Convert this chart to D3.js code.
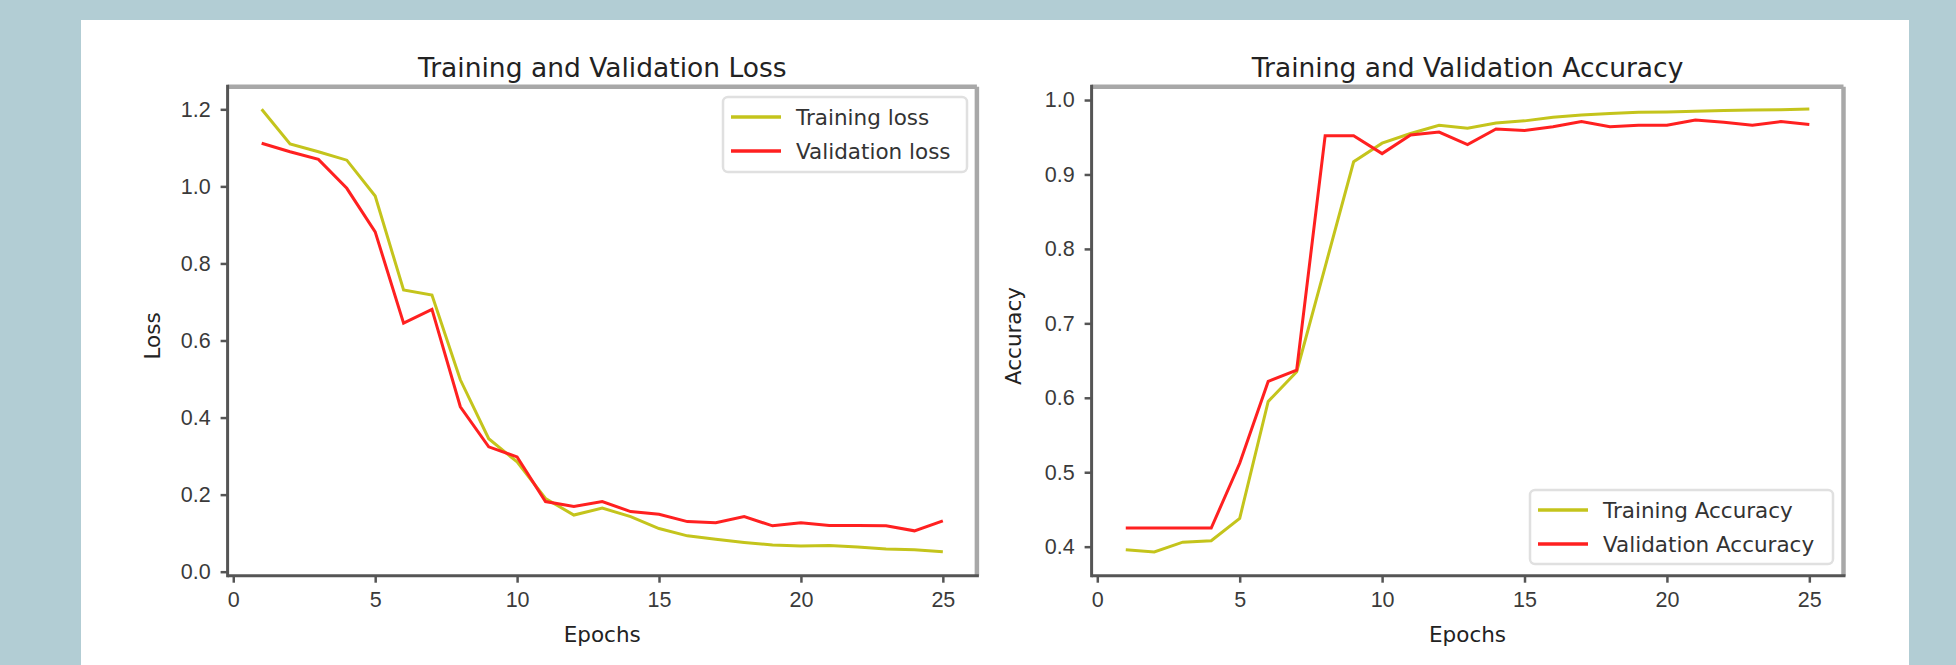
<!DOCTYPE html>
<html>
<head>
<meta charset="utf-8">
<script src="https://cdn.jsdelivr.net/npm/d3@7"></script>
<style>
  body { margin: 0; background: #b2cdd4; }
  svg { display: block; font-family: "DejaVu Sans", sans-serif; }
  .tick text { fill: #3a3a3a; font-size: 21.5px; }
  .tick line { stroke: #555; stroke-width: 2.5; }
  .domain { display: none; }
</style>
</head>
<body>
<div id="chart"></div>
<script>
// values
const epochs = [1, 2, 3, 4, 5, 6, 7, 8, 9, 10, 11, 12, 13, 14, 15, 16, 17, 18, 19, 20, 21, 22, 23, 24, 25];
const trainLoss = [1.20, 1.11, 1.09, 1.068, 0.975, 0.731, 0.718, 0.498, 0.345, 0.285, 0.19, 0.147, 0.165, 0.143, 0.112,
  0.093, 0.084, 0.076, 0.069, 0.067, 0.068, 0.064, 0.059, 0.057, 0.052];
const valLoss = [1.112, 1.09, 1.07, 0.995, 0.882, 0.645, 0.681, 0.428, 0.324, 0.298, 0.182, 0.169, 0.182, 0.156, 0.149,
  0.130, 0.127, 0.143, 0.119, 0.127, 0.12, 0.12, 0.119, 0.106, 0.132];
const trainAcc = [0.396, 0.393, 0.406, 0.408, 0.438, 0.595, 0.635, 0.776, 0.917, 0.942, 0.955, 0.966, 0.962, 0.969, 0.972,
  0.977, 0.980, 0.982, 0.9835, 0.984, 0.985, 0.986, 0.9866, 0.987, 0.988];
const valAcc = [0.425, 0.425, 0.425, 0.425, 0.512, 0.622, 0.637, 0.952, 0.952, 0.928, 0.953, 0.957, 0.940, 0.961, 0.959,
  0.964, 0.971, 0.964, 0.966, 0.966, 0.973, 0.970, 0.966, 0.971, 0.967];
const xTicks = [0, 5, 10, 15, 20, 25];
const lossTicks = [0.0, 0.2, 0.4, 0.6, 0.8, 1.0, 1.2];
const accTicks = [0.4, 0.5, 0.6, 0.7, 0.8, 0.9, 1.0];

(function () {

  const W = 1956, H = 665;
  const trainColor = "#c4c41c", valColor = "#ff2020";
  const axTop = 86.7, axBottom = 575.7;

  const svg = d3.select("#chart").append("svg")
    .attr("width", W)
    .attr("height", H);

  // white card on the blue-grey page
  svg.append("rect")
    .attr("x", 81).attr("y", 20)
    .attr("width", 1909 - 81).attr("height", H - 20)
    .attr("fill", "#fff");

  const panels = [
    {
      title: "Training and Validation Loss", ylabel: "Loss",
      left: 227.6, right: 976.9, ydom: [-0.0104, 1.2587], yticks: lossTicks,
      train: trainLoss, val: valLoss,
      labels: ["Training loss", "Validation loss"],
      legend: { x: 723, y: 97, w: 244, h: 75 }, ylabelX: 160
    },
    {
      title: "Training and Validation Accuracy", ylabel: "Accuracy",
      left: 1091.6, right: 1843.5, ydom: [0.361, 1.0179], yticks: accTicks,
      train: trainAcc, val: valAcc,
      labels: ["Training Accuracy", "Validation Accuracy"],
      legend: { x: 1530, y: 490, w: 303, h: 74 }, ylabelX: 1021
    }
  ];

  panels.forEach(function (p) {
    const x = d3.scaleLinear().domain([-0.2, 26.2]).range([p.left, p.right]);
    const y = d3.scaleLinear().domain(p.ydom).range([axBottom, axTop]);
    const g = svg.append("g");

    // title
    g.append("text")
      .attr("x", (p.left + p.right) / 2)
      .attr("y", 77)
      .attr("text-anchor", "middle")
      .attr("fill", "#222")
      .style("font-size", "26.5px")
      .text(p.title);

    // lines
    const line = function (vals) {
      return d3.line()
        .x(function (d, i) { return x(epochs[i]); })
        .y(function (d) { return y(d); })(vals);
    };
    g.append("path").attr("d", line(p.train))
      .attr("fill", "none").attr("stroke", trainColor).attr("stroke-width", 3);
    g.append("path").attr("d", line(p.val))
      .attr("fill", "none").attr("stroke", valColor).attr("stroke-width", 3);

    // spines: top/right lighter, left/bottom dark
    g.append("line").attr("x1", p.left).attr("x2", p.right).attr("y1", axTop).attr("y2", axTop)
      .attr("stroke", "#a8a8a8").attr("stroke-width", 4.5);
    g.append("line").attr("x1", p.right).attr("x2", p.right).attr("y1", axTop).attr("y2", axBottom)
      .attr("stroke", "#a8a8a8").attr("stroke-width", 4.5);
    g.append("line").attr("x1", p.left).attr("x2", p.left).attr("y1", axTop - 2).attr("y2", axBottom + 1.5)
      .attr("stroke", "#555").attr("stroke-width", 3);
    g.append("line").attr("x1", p.left).attr("x2", p.right + 2).attr("y1", axBottom).attr("y2", axBottom)
      .attr("stroke", "#555").attr("stroke-width", 3);

    // axes
    g.append("g")
      .attr("transform", "translate(0," + axBottom + ")")
      .call(d3.axisBottom(x).tickValues(xTicks).tickFormat(d3.format("d")).tickSize(7).tickPadding(9.5));
    g.append("g")
      .attr("transform", "translate(" + p.left + ",0)")
      .call(d3.axisLeft(y).tickValues(p.yticks).tickFormat(d3.format(".1f")).tickSize(7).tickPadding(10));

    // axis labels
    g.append("text")
      .attr("x", (p.left + p.right) / 2)
      .attr("y", 642)
      .attr("text-anchor", "middle")
      .attr("fill", "#222")
      .style("font-size", "21.5px")
      .text("Epochs");
    g.append("text")
      .attr("transform", "translate(" + p.ylabelX + "," + 336 + ") rotate(-90)")
      .attr("text-anchor", "middle")
      .attr("fill", "#222")
      .style("font-size", "21.5px")
      .text(p.ylabel);

    // legend
    const L = p.legend;
    const lg = g.append("g").attr("transform", "translate(" + L.x + "," + L.y + ")");
    lg.append("rect")
      .attr("width", L.w).attr("height", L.h)
      .attr("rx", 5).attr("ry", 5)
      .attr("fill", "#fff").attr("stroke", "#e0e0e0").attr("stroke-width", 2.5);
    [trainColor, valColor].forEach(function (c, i) {
      const cy = 20 + i * 34;
      lg.append("line")
        .attr("x1", 8).attr("x2", 58).attr("y1", cy).attr("y2", cy)
        .attr("stroke", c).attr("stroke-width", 3.5);
      lg.append("text")
        .attr("x", 73).attr("y", cy).attr("dy", "0.36em")
        .attr("fill", "#333")
        .style("font-size", "21.5px")
        .text(p.labels[i]);
    });
  });

})();
</script>
</body>
</html>
